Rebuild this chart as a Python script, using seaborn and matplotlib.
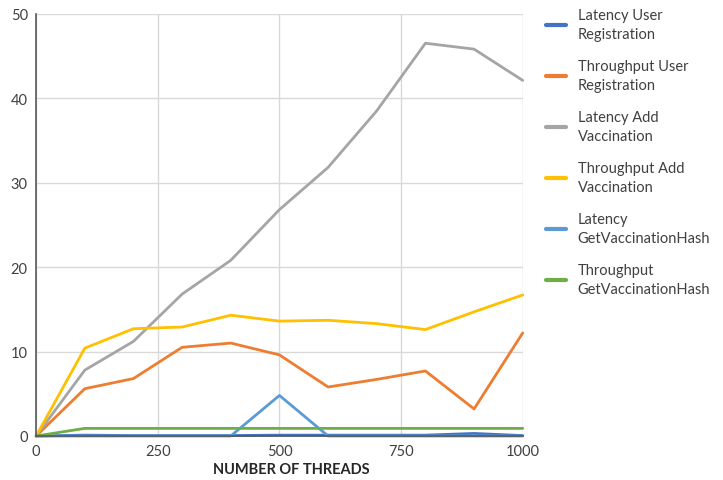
import matplotlib
matplotlib.use("Agg")
import matplotlib.pyplot as plt
import seaborn as sns
import pandas as pd

threads = [0, 100, 200, 300, 400, 500, 600, 700, 800, 900, 1000]

latency_user_registration = [0, 0.1, 0.05, 0.05, 0.05, 0.1, 0.1, 0.1, 0.1, 0.3, 0.05]
throughput_user_registration = [0, 5.6, 6.8, 10.5, 11.0, 9.6, 5.8, 6.7, 7.7, 3.2, 12.2]
latency_add_vaccination = [0, 7.8, 11.2, 16.8, 20.8, 26.8, 31.8, 38.5, 46.5, 45.8, 42.1]
throughput_add_vaccination = [0, 10.4, 12.7, 12.9, 14.3, 13.6, 13.7, 13.3, 12.6, 14.7, 16.7]
latency_get_hash = [0, 0, 0, 0, 0, 4.8, 0, 0, 0, 0, 0]
throughput_get_hash = [0, 0.9, 0.9, 0.9, 0.9, 0.9, 0.9, 0.9, 0.9, 0.9, 0.9]

series_names = [
    "Latency User\nRegistration",
    "Throughput User\nRegistration",
    "Latency Add\nVaccination",
    "Throughput Add\nVaccination",
    "Latency\nGetVaccinationHash",
    "Throughput\nGetVaccinationHash",
]
series_values = [
    latency_user_registration,
    throughput_user_registration,
    latency_add_vaccination,
    throughput_add_vaccination,
    latency_get_hash,
    throughput_get_hash,
]
colors = ["#4472C4", "#ED7D31", "#A5A5A5", "#FFC000", "#5B9BD5", "#70AD47"]

rows = []
for name, vals in zip(series_names, series_values):
    for t, v in zip(threads, vals):
        rows.append({"threads": t, "value": v, "series": name})
df = pd.DataFrame(rows)

sns.set_style("white")
plt.rcParams["font.family"] = ["Lato", "DejaVu Sans"]

fig = plt.figure(figsize=(7.23, 4.81), dpi=100)
ax = fig.add_axes([0.05, 0.0915, 0.673, 0.878])

sns.lineplot(data=df, x="threads", y="value", hue="series",
             hue_order=series_names, palette=colors, linewidth=2.0,
             ax=ax, legend=True)
for line in ax.get_lines():
    line.set_clip_on(False)

ax.set_xlim(0, 1000)
ax.set_ylim(0, 50)
ax.set_xticks([0, 250, 500, 750, 1000])
ax.set_yticks([0, 10, 20, 30, 40, 50])
ax.grid(True, color="#D9D9D9", linewidth=1.0)
ax.set_axisbelow(True)
for s in ["top", "right"]:
    ax.spines[s].set_visible(False)
for s in ["left", "bottom"]:
    ax.spines[s].set_color("#595959")
    ax.spines[s].set_linewidth(1.2)
ax.tick_params(axis="both", length=0, labelsize=10.5, colors="#404040", pad=6)
ax.set_ylabel("")
ax.set_xlabel("NUMBER OF THREADS", fontsize=10.5, fontweight="bold", color="#262626")
ax.xaxis.set_label_coords(0.525, -0.062)

leg = ax.legend(loc="upper left", bbox_to_anchor=(1.02, 1.045), frameon=False,
                fontsize=10.5, handlelength=1.4, labelspacing=1.2, handletextpad=0.8)
for h in leg.get_lines():
    h.set_linewidth(3)
for t in leg.get_texts():
    t.set_color("#404040")
    t.set_linespacing(1.5)

fig.savefig("out.png", dpi=100)
